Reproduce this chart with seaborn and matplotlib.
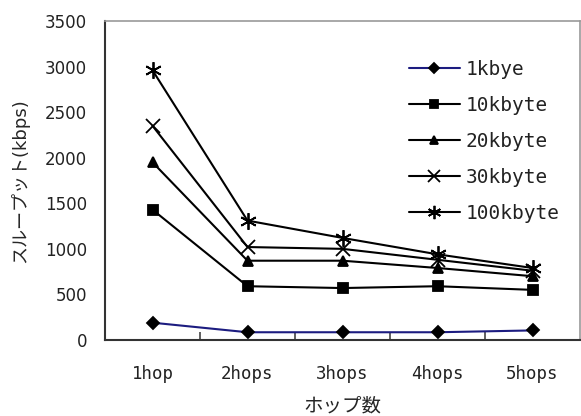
import pandas as pd
import seaborn as sns
import matplotlib.pyplot as plt

# Categorías del eje x y series de throughput (kbps)
hops = ['1hop', '2hops', '3hops', '4hops', '5hops']
series_names = ['1kbye', '10kbyte', '20kbyte', '30kbyte', '100kbyte']
kb1 = [190, 85, 85, 85, 105]
kb10 = [1430, 590, 570, 590, 550]
kb20 = [1950, 870, 870, 790, 700]
kb30 = [2350, 1020, 1000, 880, 760]
kb100 = [2960, 1310, 1120, 940, 790]
y_ticks = [0, 500, 1000, 1500, 2000, 2500, 3000, 3500]

def build_frame():
    rows = []
    for name, vals in zip(series_names, [kb1, kb10, kb20, kb30, kb100]):
        for i, (h, v) in enumerate(zip(hops, vals)):
            rows.append({'pos': i, 'hop': h, 'series': name, 'kbps': v})
    return pd.DataFrame(rows)

def main():
    df = build_frame()
    sns.set_style('white')
    plt.rcParams['font.family'] = ['DejaVu Sans', 'Noto Sans CJK JP']
    mono = ['DejaVu Sans Mono', 'Noto Sans CJK JP']

    fig = plt.figure(figsize=(5.81, 4.16), dpi=100)
    ax = fig.add_axes([105 / 581, 76 / 416, 475 / 581, 319 / 416])

    palette = {'1kbye': '#1c1c80', '10kbyte': 'black', '20kbyte': 'black',
               '30kbyte': 'black', '100kbyte': 'black'}
    markers = {'1kbye': 'D', '10kbyte': 's', '20kbyte': '^',
               '30kbyte': 'x', '100kbyte': (6, 2, 0)}
    sizes = {'1kbye': 6, '10kbyte': 6.5, '20kbyte': 7.5, '30kbyte': 10, '100kbyte': 12}

    for name in series_names:
        sub = df[df['series'] == name]
        sns.lineplot(data=sub, x='pos', y='kbps', ax=ax, color=palette[name],
                     marker=markers[name], markersize=sizes[name],
                     markeredgecolor='black', markerfacecolor='black',
                     markeredgewidth=1.3, linewidth=1.5, label=name)

    ax.set_xlim(-0.5, 4.5)
    ax.set_ylim(0, 3500)
    ax.set_yticks(y_ticks)
    ax.set_yticklabels([str(t) for t in y_ticks], fontsize=12, color='#222222')
    ax.set_xticks(range(len(hops)))
    ax.set_xticklabels(hops, fontsize=12.5, color='#222222', family=mono)
    ax.tick_params(axis='x', which='major', length=0, pad=18)
    ax.tick_params(axis='y', length=0, pad=13)
    # marcas entre categorías, hacia adentro
    ax.set_xticks([0.5, 1.5, 2.5, 3.5], minor=True)
    ax.tick_params(axis='x', which='minor', bottom=True, direction='in',
                   length=6, width=1.2, color='#444444')

    ax.set_xlabel('ホップ数', fontsize=14, labelpad=10)
    ax.set_ylabel('スループット(kbps)', fontsize=13, labelpad=11)

    for side in ['top', 'right']:
        ax.spines[side].set_color('#999999')
        ax.spines[side].set_linewidth(1.2)
    for side in ['left', 'bottom']:
        ax.spines[side].set_color('#333333')
        ax.spines[side].set_linewidth(1.5)

    leg = ax.legend(loc='upper left', bbox_to_anchor=(0.64, 0.878), frameon=False,
                    prop={'family': mono, 'size': 14}, handlelength=2.6,
                    labelspacing=0.87, handletextpad=0.3, borderpad=0,
                    borderaxespad=0, markerscale=0.8)
    for txt in leg.get_texts():
        txt.set_color('#222222')

    plt.savefig('out.png', dpi=100)
    plt.close()

if __name__ == '__main__':
    main()
